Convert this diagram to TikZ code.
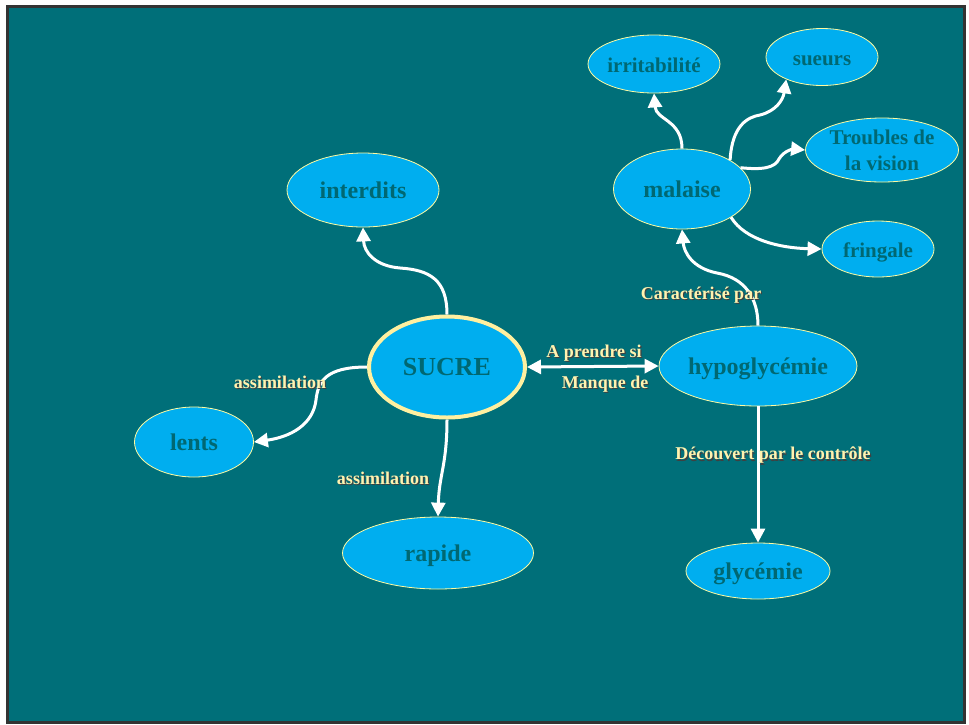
\documentclass[tikz,border=0pt]{standalone}
\usepackage{fontspec}
\setmainfont{Liberation Serif}
\usetikzlibrary{shapes.geometric,arrows.meta}
\definecolor{bgteal}{RGB}{0,111,121}
\definecolor{nodefill}{RGB}{0,174,239}
\definecolor{nodetext}{RGB}{0,104,114}
\definecolor{nodeedge}{RGB}{255,250,160}
\definecolor{sucreedge}{RGB}{255,240,160}
\definecolor{labeltext}{RGB}{255,243,176}
\definecolor{framegray}{RGB}{51,51,51}
\newcommand\shadowed[1]{\rlap{\kern1.2pt\raisebox{-1.2pt}{\textcolor{black!75}{#1}}}#1}
\begin{document}
\begin{tikzpicture}[x=1pt,y=-1pt,
  concept/.style={ellipse, draw=nodeedge, line width=0.8pt, fill=nodefill, text=nodetext,
    font=\bfseries\fontsize{24}{26}\selectfont, inner sep=0pt,
    text height=22pt, text depth=5pt},
  small/.style={concept, font=\bfseries\fontsize{21}{26}\selectfont,
    text height=20.5pt, text depth=4.5pt},
  link/.style={draw=white, line width=3pt, -{Triangle[length=14pt,width=14pt]}},
  tag/.style={text=labeltext, font=\bfseries\fontsize{18}{20}\selectfont, inner sep=0pt}]
\path[use as bounding box, fill=white] (0,0) rectangle (969,724);
\draw[draw=framegray, line width=3pt, fill=bgteal] (7.5,6.5) rectangle (964.5,722.5);

% nodes
\node[concept, minimum width=152pt, minimum height=74pt] (interdits) at (363,190) {interdits};
\node[concept, draw=sucreedge, line width=4pt, minimum width=156pt, minimum height=101pt,
      font=\bfseries\fontsize{26}{28}\selectfont, text height=17.5pt, text depth=0pt] (sucre) at (447,367) {SUCRE};
\node[concept, minimum width=119pt, minimum height=70pt] (lents) at (194,442) {lents};
\node[concept, minimum width=191pt, minimum height=72pt] (rapide) at (438,553) {rapide};
\node[concept, minimum width=188pt, minimum height=80pt] (hypo) at (758,366) {hypoglycémie};
\node[concept, minimum width=144pt, minimum height=56pt] (glyc) at (758,571) {glycémie};
\node[concept, minimum width=137pt, minimum height=80pt] (malaise) at (682,189) {malaise};
\node[small, minimum width=112pt, minimum height=58pt] (irrit) at (654,64) {irritabilité};
\node[small, minimum width=112pt, minimum height=57pt] (sueurs) at (822,57) {sueurs};
\node[small, minimum width=153pt, minimum height=64pt, align=center, text height=, text depth=] (troubles) at (882,150) {Troubles de\\la vision};
\node[small, minimum width=112pt, minimum height=56pt] (fringale) at (878,249) {fringale};

% connectors
\draw[link] (sucre.north) .. controls (447,280) and (430,270) .. (400,268)
            .. controls (375,266) and (364,252) .. (interdits.south);
\draw[link] (sucre.west) .. controls (325,367) and (318,382) .. (316,400)
            .. controls (313,425) and (290,437) .. (lents.east);
\draw[link] (sucre.south) .. controls (447,465) and (439,475) .. (rapide.north);
\draw[draw=white, line width=3pt, {Triangle[length=14pt,width=14pt]}-{Triangle[length=14pt,width=14pt]}]
  (sucre.east) -- (hypo.west);
\draw[link] (hypo.north) .. controls (758,298) and (745,278) .. (717,273)
            .. controls (692,268) and (684,252) .. (malaise.south);
\draw[link] (hypo.south) -- (glyc.north);
\draw[link] (malaise.north) .. controls (682,120) and (656,120) .. (irrit.south);
\draw[link] (malaise.31) .. controls (732,125) and (748,117) .. (760,115)
            .. controls (776,111) and (783,100) .. (sueurs.212);
\draw[link] (malaise.20) .. controls (762,170) and (775,168) .. (779,159)
            .. controls (784,150) and (795,149) .. (troubles.west);
\draw[link] (malaise.-30) .. controls (745,240) and (780,248) .. (fringale.west);

% labels
\node[tag] (l1) at (280,383) {\shadowed{assimilation}};
\node[tag] (l2) at (383,479) {\shadowed{assimilation}};
\node[tag] (l3) at (594,354) {\shadowed{A prendre si}};
\node[tag] (l4) at (605,385) {\shadowed{Manque de}};
\node[tag] (l5) at (701,296) {\shadowed{Caractérisé par}};
\node[tag] (l6) at (773,456) {\shadowed{Découvert par le contrôle}};
\end{tikzpicture}
\end{document}
